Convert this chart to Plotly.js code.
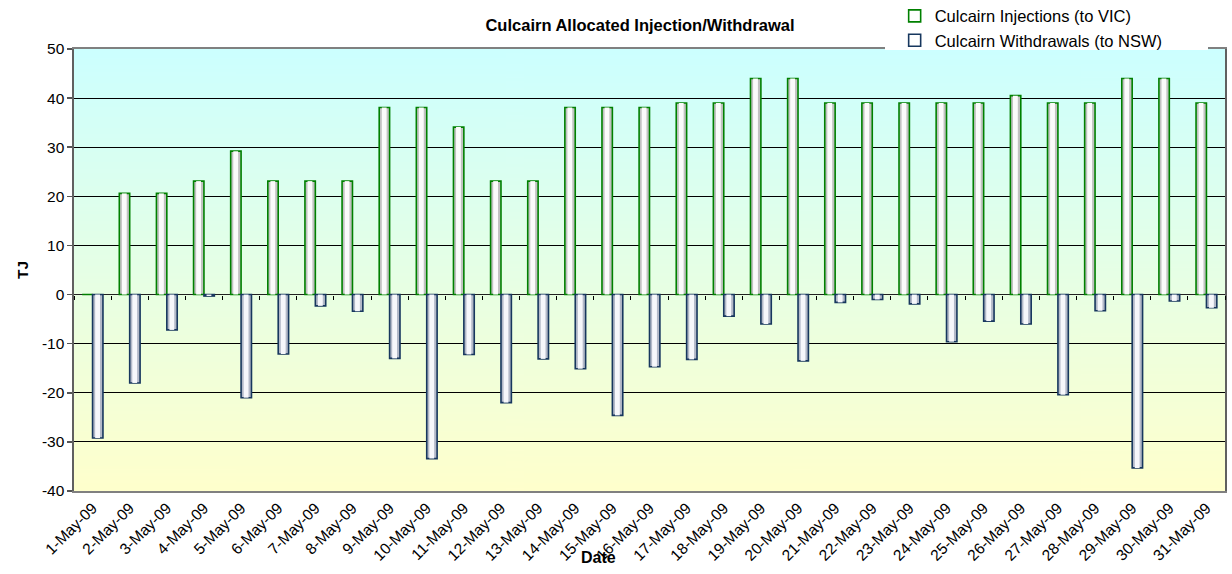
<!DOCTYPE html>
<html>
<head>
<meta charset="utf-8">
<script src="https://cdn.plot.ly/plotly-3.0.1.min.js"></script>
<style>
  html, body { margin: 0; padding: 0; background: #ffffff; }
  #chart { width: 1232px; height: 574px; }
</style>
</head>
<body>
<div id="chart"></div>
<script>
// ---- Data ----
const dates = [
  '1-May-09', '2-May-09', '3-May-09', '4-May-09', '5-May-09', '6-May-09', '7-May-09', '8-May-09',
  '9-May-09', '10-May-09', '11-May-09', '12-May-09', '13-May-09', '14-May-09', '15-May-09', '16-May-09',
  '17-May-09', '18-May-09', '19-May-09', '20-May-09', '21-May-09', '22-May-09', '23-May-09', '24-May-09',
  '25-May-09', '26-May-09', '27-May-09', '28-May-09', '29-May-09', '30-May-09', '31-May-09'
];
const injections = [
  0, 20.6, 20.6, 23.1, 29.2, 23.1, 23.1, 23.1,
  38.1, 38.1, 34.1, 23.1, 23.1, 38.1, 38.1, 38.1,
  39.0, 39.0, 44.0, 44.0, 39.0, 39.0, 39.0, 39.0,
  39.0, 40.5, 39.0, 39.0, 44.0, 44.0, 39.0
];
const withdrawals = [
  -29.2, -18.0, -7.2, -0.3, -21.0, -12.1, -2.3, -3.4,
  -13.0, -33.4, -12.2, -22.0, -13.1, -15.1, -24.6, -14.7,
  -13.2, -4.4, -6.0, -13.5, -1.6, -1.0, -1.9, -9.6,
  -5.4, -6.0, -20.4, -3.3, -35.3, -1.3, -2.7
];
const yTickVals = [-40, -30, -20, -10, 0, 10, 20, 30, 40, 50];
const yTickText = ['-40', '-30', '-20', '-10', '0', '10', '20', '30', '40', '50'];
const seriesNames = ['Culcairn Injections (to VIC)', 'Culcairn Withdrawals (to NSW)'];
const chartTitle = 'Culcairn Allocated Injection/Withdrawal';
const yTitle = 'TJ';
const xTitle = 'Date';

// ---- Styling ----
const FONT = 'Liberation Sans, Arial, sans-serif';
const BAR_W = 0.28;
const HI_W = 0.13;

function barLayers(y, name, baseFill, hiFill, lineColor, side) {
  const off = side < 0 ? -BAR_W : 0;
  return [
    { type: 'bar', x: dates, y: y, width: BAR_W, offset: off,
      marker: { color: baseFill, line: { width: 0 } },
      showlegend: false, hoverinfo: 'skip' },
    { type: 'bar', x: dates, y: y, width: HI_W, offset: off + 0.07, xaxis: 'x2',
      marker: { color: hiFill, line: { width: 0 } },
      showlegend: false, hoverinfo: 'skip' },
    { type: 'bar', x: dates, y: y, width: BAR_W, offset: off, name: name,
      marker: { color: 'rgba(255,255,255,0)', line: { color: lineColor, width: 1.6 } } }
  ];
}

const data = [].concat(
  barLayers(injections, seriesNames[0], '#c2c2c2', '#fbfbfb', '#008000', -1),
  barLayers(withdrawals, seriesNames[1], '#b3b9c8', '#f6f7fb', '#17375e', 1)
);

// background gradient (cyan at top to pale yellow at bottom)
const cv = document.createElement('canvas');
cv.width = 4; cv.height = 256;
const ctx = cv.getContext('2d');
const g = ctx.createLinearGradient(0, 0, 0, 256);
g.addColorStop(0, '#ccffff');
g.addColorStop(1, '#ffffcc');
ctx.fillStyle = g;
ctx.fillRect(0, 0, 4, 256);
const bgUrl = cv.toDataURL('image/png');

const yMin = -40, yMax = 50;

const layout = {
  width: 1232, height: 574,
  margin: { l: 74, r: 7, t: 49, b: 83, pad: 0, autoexpand: false },
  paper_bgcolor: '#ffffff',
  plot_bgcolor: 'rgba(0,0,0,0)',
  font: { family: FONT, color: '#000000' },
  barmode: 'overlay',
  showlegend: true,
  title: {
    text: '<b>' + chartTitle + '</b>',
    font: { family: FONT, size: 16.5, color: '#000000' },
    xref: 'container', x: 0.5195, xanchor: 'center',
    yref: 'container', y: 1 - 25 / 574, yanchor: 'middle'
  },
  xaxis: {
    type: 'category', categoryorder: 'array', categoryarray: dates,
    range: [-0.5, dates.length - 0.5],
    ticks: '', showgrid: false, zeroline: false,
    showline: true, linecolor: '#808080', linewidth: 2, mirror: true,
    tickangle: -45, tickfont: { family: FONT, size: 15.5, color: '#000000' },
    automargin: false
  },
  xaxis2: {
    type: 'category', categoryorder: 'array', categoryarray: dates,
    range: [-0.5, dates.length - 0.5],
    overlaying: 'x', anchor: 'free', position: (0 - yMin) / (yMax - yMin), side: 'bottom',
    ticks: 'outside', ticklen: 4, tickcolor: '#000000', tickwidth: 1, tickson: 'boundaries',
    showticklabels: false, showgrid: false, zeroline: false, showline: false
  },
  yaxis: {
    range: [yMin, yMax], tickmode: 'array', tickvals: yTickVals, ticktext: yTickText,
    ticks: 'outside', ticklen: 5, tickcolor: '#555555', tickwidth: 1.5,
    showgrid: true, gridcolor: '#000000', gridwidth: 1,
    zeroline: true, zerolinecolor: '#222222', zerolinewidth: 1.2,
    showline: true, linecolor: '#606060', linewidth: 1.6, mirror: true,
    tickfont: { family: FONT, size: 15.5, color: '#000000' },
    title: { text: '<b>' + yTitle + '</b>', font: { family: FONT, size: 15.5, color: '#000000' }, standoff: 9 },
    automargin: false
  },
  legend: {
    x: 0.713, xanchor: 'left', y: 1.114, yanchor: 'top',
    bgcolor: 'rgba(0,0,0,0)', borderwidth: 0,
    font: { family: FONT, size: 16.5, color: '#000000' },
    tracegroupgap: 0, itemwidth: 30, traceorder: 'normal'
  },
  annotations: [{
    text: '<b>' + xTitle + '</b>', xref: 'paper', yref: 'paper',
    x: (598 - 74) / 1151, y: (491 - 557) / 442, xanchor: 'center', yanchor: 'middle',
    showarrow: false, font: { family: FONT, size: 16, color: '#000000' }
  }],
  shapes: [{
    type: 'rect', xref: 'paper', yref: 'paper', layer: 'above',
    x0: (885 - 74) / 1151, x1: (1208 - 74) / 1151, y0: 0.9975, y1: 1.03,
    fillcolor: '#ffffff', line: { width: 0 }
  }],
  images: [{
    source: bgUrl, xref: 'paper', yref: 'paper', x: 0, y: 1, sizex: 1, sizey: 1,
    xanchor: 'left', yanchor: 'top', sizing: 'stretch', layer: 'below'
  }]
};

Plotly.newPlot('chart', data, layout, { staticPlot: true, displayModeBar: false });
</script>
</body>
</html>
